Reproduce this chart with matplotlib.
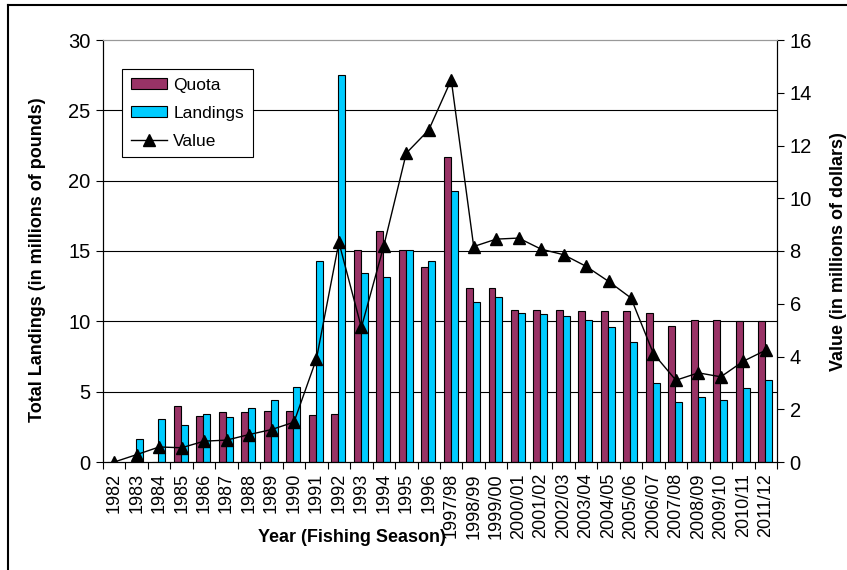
import matplotlib
matplotlib.use("Agg")
import matplotlib.pyplot as plt
import numpy as np
from matplotlib.lines import Line2D
from matplotlib.patches import Patch

plt.rcParams['font.family'] = ['Liberation Sans', 'DejaVu Sans']

years = ["1982", "1983", "1984", "1985", "1986", "1987", "1988", "1989", "1990",
         "1991", "1992", "1993", "1994", "1995", "1996", "1997/98", "1998/99",
         "1999/00", "2000/01", "2001/02", "2002/03", "2003/04", "2004/05",
         "2005/06", "2006/07", "2007/08", "2008/09", "2009/10", "2010/11", "2011/12"]
quota = [0, 0, 0, 3.97, 3.26, 3.54, 3.54, 3.66, 3.66, 3.35, 3.44, 15.04, 16.42,
         15.04, 13.86, 21.68, 12.37, 12.37, 10.78, 10.78, 10.78, 10.74, 10.74,
         10.74, 10.57, 9.69, 10.07, 10.07, 10.0, 10.0]
landings = [0, 1.6, 3.07, 2.66, 3.44, 3.19, 3.85, 4.44, 5.34, 14.26, 27.52, 13.44,
            13.15, 15.04, 14.26, 19.28, 11.38, 11.71, 10.6, 10.5, 10.4, 10.1, 9.6,
            8.51, 5.62, 4.25, 4.63, 4.44, 5.24, 5.81]
value = [0, 0.28, 0.57, 0.54, 0.79, 0.83, 1.04, 1.23, 1.51, 3.91, 8.33, 5.1, 8.2,
         11.71, 12.59, 14.49, 8.17, 8.45, 8.49, 8.07, 7.86, 7.42, 6.85, 6.22,
         4.11, 3.1, 3.38, 3.23, 3.82, 4.24]

W, H = 847, 570
fig = plt.figure(figsize=(W/100, H/100), dpi=100)
L, R, T, B = 103, 777, 40, 462
ax = fig.add_axes([L/W, 1-B/H, (R-L)/W, (B-T)/H])

n = len(years)
x = np.arange(n) + 0.5
bw = 0.31
ax.bar(x - bw/2 - 0.03, quota, width=bw, color='#993366', edgecolor='black', linewidth=0.8, zorder=2)
ax.bar(x + bw/2 - 0.03, landings, width=bw, color='#00CCFF', edgecolor='black', linewidth=0.8, zorder=2)

ax.set_xlim(0, n)
ax.set_ylim(0, 30)
ax.set_yticks(np.arange(0, 31, 5))
ax.set_xticks(np.arange(0, n+1), labels=[""]*(n+1))
ax.set_xticks(x, labels=years, minor=True)
ax.tick_params(axis='x', which='major', length=5, direction='out', width=0.8)
ax.tick_params(axis='x', which='minor', length=0, pad=8, labelsize=13, labelrotation=90)
ax.tick_params(axis='y', length=5, direction='out', width=0.8, labelsize=14.5, pad=4)
for lab in ax.get_xticklabels(minor=True):
    lab.set_va('top')
ax.set_axisbelow(True)
for yv in range(5, 30, 5):
    ax.axhline(yv, color='black', linewidth=0.8, zorder=0)
ax.spines['top'].set_color('#999999')
ax.spines['left'].set_linewidth(0.8)
ax.spines['bottom'].set_linewidth(0.8)
ax.spines['right'].set_linewidth(0.8)

ax2 = ax.twinx()
ax2.plot(x, value, color='black', linewidth=1, marker='^', markersize=8, zorder=3)
ax2.set_ylim(0, 16)
ax2.set_yticks(np.arange(0, 17, 2))
ax2.tick_params(axis='y', length=5, direction='out', width=0.8, labelsize=14.5, pad=4)
ax2.spines['top'].set_color('#999999')
ax2.spines['right'].set_linewidth(0.8)

fig.text(38/W, 1-260/H, "Total Landings (in millions of pounds)", rotation=90,
         ha='center', va='center', fontsize=13, fontweight='bold')
fig.text(838/W, 1-252/H, "Value (in millions of dollars)", rotation=90,
         ha='center', va='center', fontsize=13, fontweight='bold')
fig.text(352/W, 1-538/H, "Year (Fishing Season)", ha='center', va='center',
         fontsize=13, fontweight='bold')

handles = [Patch(facecolor='#993366', edgecolor='black', linewidth=0.8),
           Patch(facecolor='#00CCFF', edgecolor='black', linewidth=0.8),
           Line2D([0], [0], color='black', linewidth=1, marker='^', markersize=8)]
leg = ax2.legend(handles, ["Quota", "Landings", "Value"], loc='upper left',
                 bbox_to_anchor=((122-L)/(R-L), 1-(69-T)/(B-T)), fontsize=12.5,
                 frameon=True, fancybox=False, edgecolor='black', framealpha=1,
                 borderpad=0.5, handlelength=2.1, handleheight=0.6,
                 handletextpad=0.35, labelspacing=0.75, borderaxespad=0)
leg.get_frame().set_linewidth(0.8)

# outer chart-area border (left and top edges visible)
fig.add_artist(Line2D([8/W, 8/W], [0, 1-5/H], transform=fig.transFigure,
                      color='black', linewidth=1.5))
fig.add_artist(Line2D([8/W, 1], [1-5/H, 1-5/H], transform=fig.transFigure,
                      color='black', linewidth=1.5))

fig.savefig("out.png", dpi=100)
